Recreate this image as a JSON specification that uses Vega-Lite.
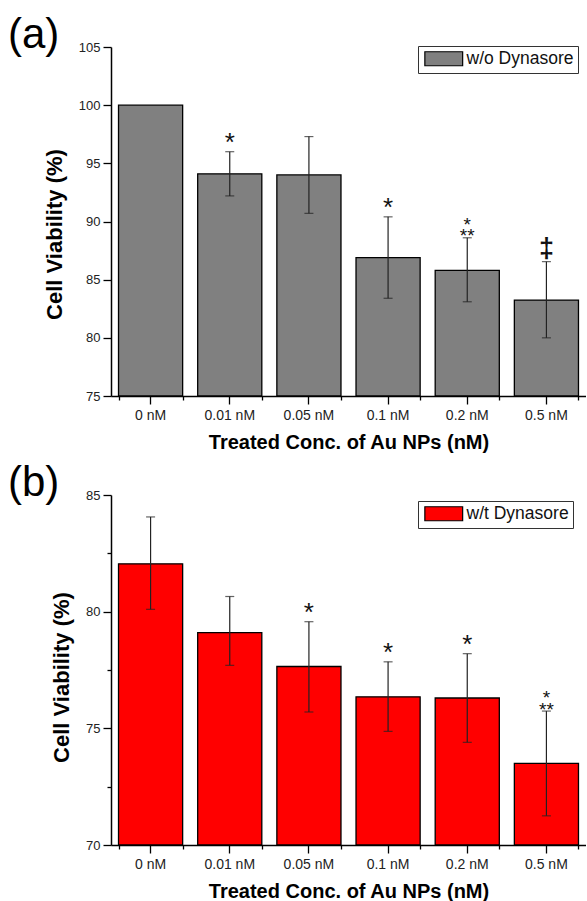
{
  "$schema": "https://vega.github.io/schema/vega-lite/v6.json",
  "background": "white",
  "padding": {"left": 8, "top": 14, "right": 0, "bottom": 0},
  "spacing": 10,
  "resolve": {"scale": {"color": "independent"}},
  "config": {
    "font": "Liberation Sans",
    "view": {"stroke": null},
    "axis": {"domainColor": "black", "domainWidth": 1.5, "tickColor": "black", "tickWidth": 1.3, "labelColor": "#222", "grid": false, "titleColor": "black", "titleFontWeight": "bold", "titleFontSize": 20},
    "title": {"fontWeight": "normal", "fontSize": 42, "color": "black"}
  },
  "vconcat": [
    {
      "width": 475,
      "height": 349,
      "title": {"text": "(a)", "anchor": "start", "frame": "group", "dx": -103, "offset": -16},
      "data": {"values": [
        {"conc": "0 nM", "v": 100, "lo": null, "hi": null, "sig": "", "grp": "w/o Dynasore"},
        {"conc": "0.01 nM", "v": 94.1, "lo": 92.2, "hi": 96.0, "sig": "*", "grp": "w/o Dynasore"},
        {"conc": "0.05 nM", "v": 94.0, "lo": 90.7, "hi": 97.3, "sig": "", "grp": "w/o Dynasore"},
        {"conc": "0.1 nM", "v": 86.9, "lo": 83.4, "hi": 90.4, "sig": "*", "grp": "w/o Dynasore"},
        {"conc": "0.2 nM", "v": 85.8, "lo": 83.1, "hi": 88.6, "sig": "*\n**", "grp": "w/o Dynasore"},
        {"conc": "0.5 nM", "v": 83.25, "lo": 80.0, "hi": 86.55, "sig": "‡", "grp": "w/o Dynasore"}
      ]},
      "layer": [
        {
          "mark": {"type": "bar", "stroke": "black", "strokeWidth": 1.3},
          "encoding": {
            "x": {"field": "conc", "type": "nominal", "sort": null, "scale": {"paddingInner": 0.19, "paddingOuter": 0.095},
              "axis": {"labelAngle": 0, "labelFontSize": 14, "title": "Treated Conc. of Au NPs (nM)", "tickSize": 8, "labelPadding": 4, "titlePadding": 10}},
            "y": {"field": "v", "type": "quantitative", "scale": {"domain": [75, 105], "zero": false, "nice": false},
              "axis": {"values": [75, 77.5, 80, 82.5, 85, 87.5, 90, 92.5, 95, 97.5, 100, 102.5, 105], "labelExpr": "datum.value % 5 === 0 ? datum.label : ''", "tickSize": {"condition": {"test": "datum.value % 5 === 0", "value": 8}, "value": 4}, "labelFontSize": 13, "labelPadding": 3, "title": "Cell Viability (%)", "titleFontSize": 22, "titlePadding": 12, "titleY": 187}},
            "y2": {"datum": 75},
            "color": {"field": "grp", "type": "nominal", "scale": {"domain": ["w/o Dynasore"], "range": ["#808080"]},
              "legend": {"orient": "none", "legendX": 307, "legendY": -1, "title": null, "symbolType": "M-2.7,-1H2.7V1H-2.7Z", "symbolSize": 196, "symbolOffset": 13, "symbolStrokeColor": "black", "symbolStrokeWidth": 1.2, "symbolOpacity": 1, "labelFontSize": 17.5, "labelColor": "#111", "labelOffset": 14, "strokeColor": "#333", "fillColor": "white", "padding": 4}}
          }
        },
        {
          "transform": [{"filter": "isValid(datum.hi)"}],
          "mark": {"type": "rule", "color": "#222", "strokeWidth": 1.2},
          "encoding": {
            "x": {"field": "conc", "type": "nominal", "sort": null, "axis": {"orient": "bottom", "tickBand": "extent", "labels": false, "domain": false, "title": null, "tickSize": 4}},
            "y": {"field": "lo", "type": "quantitative"},
            "y2": {"field": "hi"}
          }
        },
        {
          "transform": [{"filter": "isValid(datum.hi)"}],
          "mark": {"type": "tick", "color": "#222", "size": 9, "thickness": 1.2},
          "encoding": {"x": {"field": "conc", "type": "nominal", "sort": null, "axis": null}, "y": {"field": "hi", "type": "quantitative"}}
        },
        {
          "transform": [{"filter": "isValid(datum.lo)"}],
          "mark": {"type": "tick", "color": "#222", "size": 9, "thickness": 1.2},
          "encoding": {"x": {"field": "conc", "type": "nominal", "sort": null, "axis": null}, "y": {"field": "lo", "type": "quantitative"}}
        },
        {
          "transform": [{"filter": "datum.sig === '*'"}],
          "mark": {"type": "text", "fontSize": 26, "baseline": "alphabetic", "dy": -1, "color": "#111"},
          "encoding": {"x": {"field": "conc", "type": "nominal", "sort": null, "axis": null}, "y": {"field": "hi", "type": "quantitative"}, "text": {"field": "sig"}}
        },
        {
          "transform": [{"filter": "datum.sig === '‡'"}],
          "mark": {"type": "text", "fontSize": 27, "fontWeight": "bold", "baseline": "alphabetic", "dy": -5, "color": "#111"},
          "encoding": {"x": {"field": "conc", "type": "nominal", "sort": null, "axis": null}, "y": {"field": "hi", "type": "quantitative"}, "text": {"field": "sig"}}
        },
        {
          "transform": [{"filter": "datum.sig === '*\\n**'"}],
          "mark": {"type": "text", "fontSize": 19, "baseline": "bottom", "lineBreak": "\n", "lineHeight": 11.5, "dy": -3, "color": "#111"},
          "encoding": {"x": {"field": "conc", "type": "nominal", "sort": null, "axis": null}, "y": {"field": "hi", "type": "quantitative"}, "text": {"field": "sig"}}
        }
      ],
      "resolve": {"axis": {"x": "independent"}}
    },
    {
      "width": 475,
      "height": 350,
      "title": {"text": "(b)", "anchor": "start", "frame": "group", "dx": -103, "offset": -16},
      "data": {"values": [
        {"conc": "0 nM", "v": 82.05, "lo": 80.1, "hi": 84.06, "sig": "", "grp": "w/t Dynasore"},
        {"conc": "0.01 nM", "v": 79.1, "lo": 77.7, "hi": 80.65, "sig": "", "grp": "w/t Dynasore"},
        {"conc": "0.05 nM", "v": 77.65, "lo": 75.7, "hi": 79.57, "sig": "*", "grp": "w/t Dynasore"},
        {"conc": "0.1 nM", "v": 76.35, "lo": 74.87, "hi": 77.85, "sig": "*", "grp": "w/t Dynasore"},
        {"conc": "0.2 nM", "v": 76.3, "lo": 74.4, "hi": 78.2, "sig": "*", "grp": "w/t Dynasore"},
        {"conc": "0.5 nM", "v": 73.5, "lo": 71.25, "hi": 75.74, "sig": "*\n**", "grp": "w/t Dynasore"}
      ]},
      "layer": [
        {
          "mark": {"type": "bar", "stroke": "black", "strokeWidth": 1.3},
          "encoding": {
            "x": {"field": "conc", "type": "nominal", "sort": null, "scale": {"paddingInner": 0.19, "paddingOuter": 0.095},
              "axis": {"labelAngle": 0, "labelFontSize": 14, "title": "Treated Conc. of Au NPs (nM)", "tickSize": 8, "labelPadding": 4, "titlePadding": 10}},
            "y": {"field": "v", "type": "quantitative", "scale": {"domain": [70, 85], "zero": false, "nice": false},
              "axis": {"values": [70, 72.5, 75, 77.5, 80, 82.5, 85], "labelExpr": "datum.value % 5 === 0 ? datum.label : ''", "tickSize": {"condition": {"test": "datum.value % 5 === 0", "value": 8}, "value": 4}, "labelFontSize": 13, "labelPadding": 3, "title": "Cell Viability (%)", "titleFontSize": 22, "titlePadding": 12, "titleY": 182}},
            "y2": {"datum": 70},
            "color": {"field": "grp", "type": "nominal", "scale": {"domain": ["w/t Dynasore"], "range": ["#ff0000"]},
              "legend": {"orient": "none", "legendX": 307, "legendY": 6, "title": null, "symbolType": "M-2.7,-1H2.7V1H-2.7Z", "symbolSize": 196, "symbolOffset": 13, "symbolStrokeColor": "black", "symbolStrokeWidth": 1.2, "symbolOpacity": 1, "labelFontSize": 17.5, "labelColor": "#111", "labelOffset": 14, "strokeColor": "#333", "fillColor": "white", "padding": 4}}
          }
        },
        {
          "transform": [{"filter": "isValid(datum.hi)"}],
          "mark": {"type": "rule", "color": "#222", "strokeWidth": 1.2},
          "encoding": {
            "x": {"field": "conc", "type": "nominal", "sort": null, "axis": {"orient": "bottom", "tickBand": "extent", "labels": false, "domain": false, "title": null, "tickSize": 4}},
            "y": {"field": "lo", "type": "quantitative"},
            "y2": {"field": "hi"}
          }
        },
        {
          "transform": [{"filter": "isValid(datum.hi)"}],
          "mark": {"type": "tick", "color": "#222", "size": 9, "thickness": 1.2},
          "encoding": {"x": {"field": "conc", "type": "nominal", "sort": null, "axis": null}, "y": {"field": "hi", "type": "quantitative"}}
        },
        {
          "transform": [{"filter": "isValid(datum.lo)"}],
          "mark": {"type": "tick", "color": "#222", "size": 9, "thickness": 1.2},
          "encoding": {"x": {"field": "conc", "type": "nominal", "sort": null, "axis": null}, "y": {"field": "lo", "type": "quantitative"}}
        },
        {
          "transform": [{"filter": "datum.sig === '*'"}],
          "mark": {"type": "text", "fontSize": 26, "baseline": "alphabetic", "dy": -1, "color": "#111"},
          "encoding": {"x": {"field": "conc", "type": "nominal", "sort": null, "axis": null}, "y": {"field": "hi", "type": "quantitative"}, "text": {"field": "sig"}}
        },
        {
          "transform": [{"filter": "datum.sig === '*\\n**'"}],
          "mark": {"type": "text", "fontSize": 19, "baseline": "bottom", "lineBreak": "\n", "lineHeight": 11.5, "dy": -3, "color": "#111"},
          "encoding": {"x": {"field": "conc", "type": "nominal", "sort": null, "axis": null}, "y": {"field": "hi", "type": "quantitative"}, "text": {"field": "sig"}}
        }
      ],
      "resolve": {"axis": {"x": "independent"}}
    }
  ]
}
